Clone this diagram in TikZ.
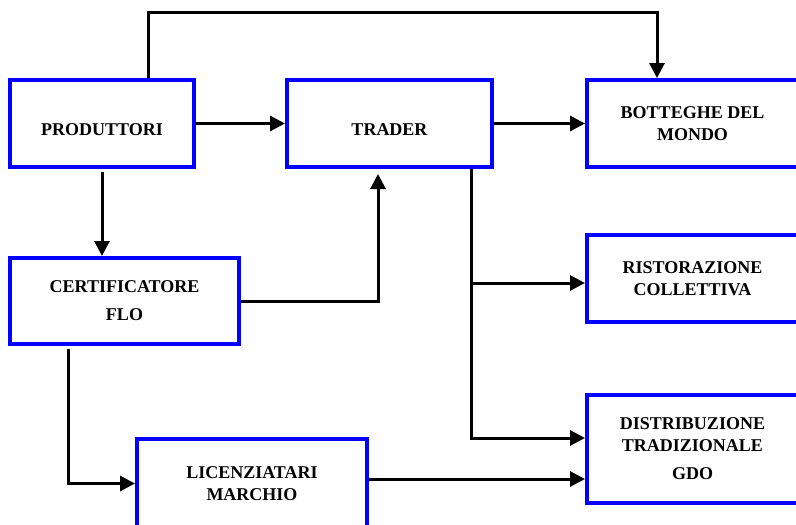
\documentclass[tikz,border=0pt]{standalone}
\usepackage{fontspec}
\setmainfont{Liberation Serif}
\usetikzlibrary{arrows.meta}

\tikzset{
	box/.style={draw=blue, line width=4pt, inner sep=0pt, align=center, font=\fontsize{18}{22}\selectfont\bfseries},
	lowtext/.style={text height=24pt, text depth=0pt},
	arr/.style={line width=3pt, -{Triangle[length=15pt,width=15pt]}}
}

\begin{document}
\begin{tikzpicture}[x=1pt,y=-1pt]
	\useasboundingbox (0,0) rectangle (796,525);
	\clip (0,0) rectangle (796,525);

	%LEFT COLUMN
	\node[box, lowtext, minimum width=184, minimum height=87] (prod) at (102,123.5) {PRODUTTORI};
	\node[box, minimum width=229, minimum height=86] (cert) at (124.5,301) {CERTIFICATORE\\[6pt] FLO};
	\node[box, minimum width=230, minimum height=89] (lic) at (252,483.5) {LICENZIATARI\\ MARCHIO};

	%MIDDLE
	\node[box, lowtext, minimum width=205, minimum height=87] (trader) at (389.5,123.5) {TRADER};

	%RIGHT COLUMN
	\node[box, minimum width=211, minimum height=87] (botteghe) at (692.5,123.5) {BOTTEGHE DEL\\ MONDO};
	\node[box, minimum width=211, minimum height=87] (ristor) at (692.5,278.5) {RISTORAZIONE\\ COLLETTIVA};
	\node[box, minimum width=211, minimum height=108] (distrib) at (692.5,449) {DISTRIBUZIONE\\ TRADIZIONALE\\[6pt] GDO};

	%CONNECTORS
	\coordinate (top) at (0,12);
	\draw[arr] ([xshift=46pt]prod.north) |- ([xshift=-35.5pt]botteghe.north |- top) -- ([xshift=-35.5pt]botteghe.north);
	\draw[arr] (prod) -- (trader);
	\draw[arr] (trader) -- (botteghe);
	\draw[arr, shorten <=3pt] (prod.south) -- (prod.south |- cert.north);
	\draw[arr, shorten >=5pt] (cert.east) -| ([xshift=-11.5pt]trader.south);
	\draw[arr] ([xshift=81.5pt]trader.south) |- ([yshift=11pt]distrib.west);
	\draw[arr] ([xshift=81.5pt]trader.south |- ristor.west) ++(0,4.5) -- ([yshift=-4.5pt]ristor.west);
	\draw[arr, shorten <=3pt] ([xshift=-56.5pt]cert.south) |- (lic.west);
	\draw[arr] ([yshift=4.5pt]lic.east) -- ([yshift=4.5pt]lic.east -| distrib.west);
\end{tikzpicture}
\end{document}
